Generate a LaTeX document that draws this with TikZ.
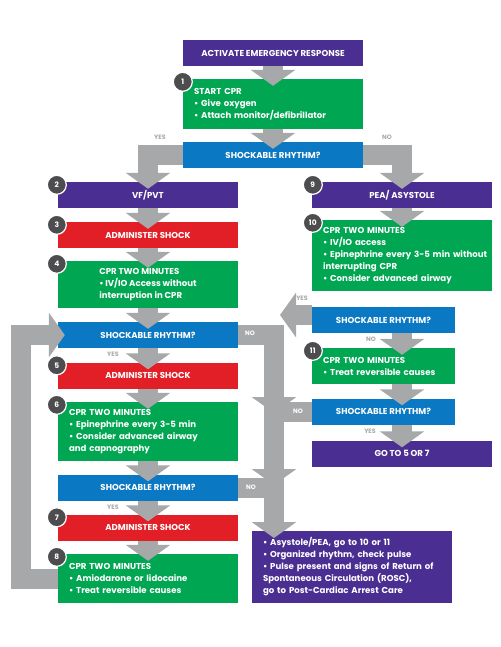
\documentclass[tikz,border=0pt]{standalone}
\usepackage{fontspec}
\setmainfont{Poppins}
\usetikzlibrary{arrows.meta}
\definecolor{alertpurple}{RGB}{74,46,145}
\definecolor{cprgreen}{RGB}{0,166,81}
\definecolor{shockred}{RGB}{226,30,38}
\definecolor{rhythmblue}{RGB}{10,120,194}
\definecolor{flowgray}{RGB}{167,168,170}
\definecolor{badgegray}{RGB}{77,77,79}
\tikzset{box/.style={minimum width=180pt,minimum height=26pt,inner sep=0pt,text=white,
  font=\fontsize{8.6}{12}\selectfont\bfseries},
 listbox/.style={box,align=left},
 flow/.style={draw=flowgray,line width=20pt,-{Triangle[width=44pt,length=16pt]},shorten >=-7pt},
 flowfree/.style={flow,shorten >=0pt},
 badge/.style={circle,fill=badgegray,draw=white,line width=1.2pt,minimum size=19pt,inner sep=0pt,
  text=white,font=\fontsize{7.5}{8}\selectfont\bfseries},
 tag/.style={text=flowgray,font=\fontsize{6.3}{8}\selectfont\bfseries},
 bartag/.style={tag,text=white}}

\begin{document}
\begin{tikzpicture}[x=1pt,y=-1pt]
\useasboundingbox (0,0) rectangle (500,647);
\node[box,fill=alertpurple] (act) at (273,53) {ACTIVATE EMERGENCY RESPONSE};
\node[listbox,fill=cprgreen,minimum height=50pt,text width=158pt] (s1) at (273,104)
 {START CPR\\\textbullet{} Give oxygen\\\textbullet{} Attach monitor/defibrillator};
\node[box,fill=rhythmblue] (q1) at (273,155) {SHOCKABLE RHYTHM?};
\node[box,fill=alertpurple] (vf) at (148,195) {VF/PVT};
\node[box,fill=alertpurple] (pea) at (402,195) {PEA/ ASYSTOLE};
\node[box,fill=shockred] (sh3) at (148,235) {ADMINISTER SHOCK};
\node[listbox,fill=cprgreen,minimum height=47pt] (c4) at (148,284.5)
 {CPR TWO MINUTES\\\textbullet{} IV/IO Access without\\interruption in CPR};
\node[listbox,fill=cprgreen,minimum height=71pt,text width=158pt] (c10) at (402,255.5)
 {CPR TWO MINUTES\\\textbullet{} IV/IO access\\\mbox{\textbullet{} Epinephrine every 3-5 min without}\\interrupting CPR\\\textbullet{} Consider advanced airway};
\node[box,fill=rhythmblue,minimum width=143pt] (q5) at (383.5,320) {SHOCKABLE RHYTHM?};
\node[box,fill=rhythmblue] (q2) at (148,335) {SHOCKABLE RHYTHM?};
\node[listbox,fill=cprgreen,minimum width=143pt,minimum height=36pt,text width=121pt] (c11) at (383.5,366)
 {CPR TWO MINUTES\\\textbullet{} Treat reversible causes};
\node[box,fill=shockred] (sh5) at (148,375.5) {ADMINISTER SHOCK};
\node[listbox,fill=cprgreen,minimum height=59pt,text width=158pt] (c6) at (148,431.5)
 {CPR TWO MINUTES\\\textbullet{} Epinephrine every 3-5 min\\\textbullet{} Consider advanced airway\\and capnography};
\node[box,fill=rhythmblue,minimum width=143pt] (q6) at (383.5,411.5) {SHOCKABLE RHYTHM?};
\node[box,fill=alertpurple] (go) at (402,453.5) {GO TO 5 OR 7};
\node[box,fill=rhythmblue] (q3) at (148,487.5) {SHOCKABLE RHYTHM?};
\node[box,fill=shockred] (sh7) at (148,527.5) {ADMINISTER SHOCK};
\node[listbox,fill=cprgreen,minimum height=49pt,text width=158pt] (c8) at (148,578.5)
 {CPR TWO MINUTES\\\textbullet{} Amiodarone or lidocaine\\\textbullet{} Treat reversible causes};
\node[listbox,fill=alertpurple,minimum width=200pt,minimum height=72pt,text width=178pt] (fin) at (352,567)
 {\textbullet{} Asystole/PEA, go to 10 or 11\\\textbullet{} Organized rhythm, check pulse\\\textbullet{} Pulse present and signs of Return of\\Spontaneous Circulation (ROSC),\\go to Post-Cardiac Arrest Care};
\coordinate (j0) at (280,315);
\coordinate (j1) at (274,413);
\coordinate (j2) at (274,485);
\coordinate (j3) at (274,531);
\coordinate (lp) at (21,335);
\draw[flow] (act.south) -- (s1.north);
\draw[flow] (s1.south) -- (q1.north);
\draw[flow] (q1.west) -| (vf.north);
\draw[flow] (q1.east) -| (pea.north);
\draw[flow] (vf.south) -- (sh3.north);
\draw[flow] (sh3.south) -- (c4.north);
\draw[flow] (c4.south) -- (q2.north);
\draw[flow] (q2.south) -- (sh5.north);
\draw[flow] (sh5.south) -- (c6.north);
\draw[flow] (c6.south) -- (q3.north);
\draw[flow] (q3.south) -- (sh7.north);
\draw[flow] (sh7.south) -- (c8.north);
\draw[flow] (c8.west) -| (lp) -- (q2.west);
\draw[flow] (pea.south) -- (c10.north);
\draw[flowfree] (q5.west |- j0) -- (j0);
\draw[flow] (q5.south -| pea.south) -- (c11.north -| pea.south);
\draw[flow] (c11.south -| pea.south) -- (q6.north -| pea.south);
\draw[flow] (q6.south -| pea.south) -- (go.north);
\draw[flowfree] (q6.west) -| (j2);
\draw[flowfree] (q2.east) -| (j1);
\draw[flow] (q3.east) -| (j3);
\node[badge] (n1) at ([shift={(0,3)}]s1.north west) {1};
\node[badge] (n2) at ([shift={(-1,3)}]vf.north west) {2};
\node[badge] (n3) at ([shift={(-1,3)}]sh3.north west) {3};
\node[badge] (n4) at ([shift={(-1,3)}]c4.north west) {4};
\node[badge] (n5) at ([shift={(-1,3)}]sh5.north west) {5};
\node[badge] (n6) at ([shift={(-1,3)}]c6.north west) {6};
\node[badge] (n7) at ([shift={(-1,3)}]sh7.north west) {7};
\node[badge] (n8) at ([shift={(-1,3)}]c8.north west) {8};
\node[badge] (n9) at ([shift={(1,3)}]pea.north west) {9};
\node[badge] (n10) at ([shift={(1,3)}]c10.north west) {10};
\node[badge] (n11) at ([shift={(1,3)}]c11.north west) {11};
\node[tag] (y1) at (160,137) {YES};
\node[tag] (no1) at (387,137) {NO};
\node[tag] (y2) at (302,298) {YES};
\node[tag] (y3) at (113,354) {YES};
\node[tag] (no2) at (371,339) {NO};
\node[tag] (y4) at (370,431) {YES};
\node[tag] (y5) at (113,507) {YES};
\node[bartag] (no3) at (250,333) {NO};
\node[bartag] (no4) at (298,411) {NO};
\node[bartag] (no5) at (251,487) {NO};
\end{tikzpicture}
\end{document}
